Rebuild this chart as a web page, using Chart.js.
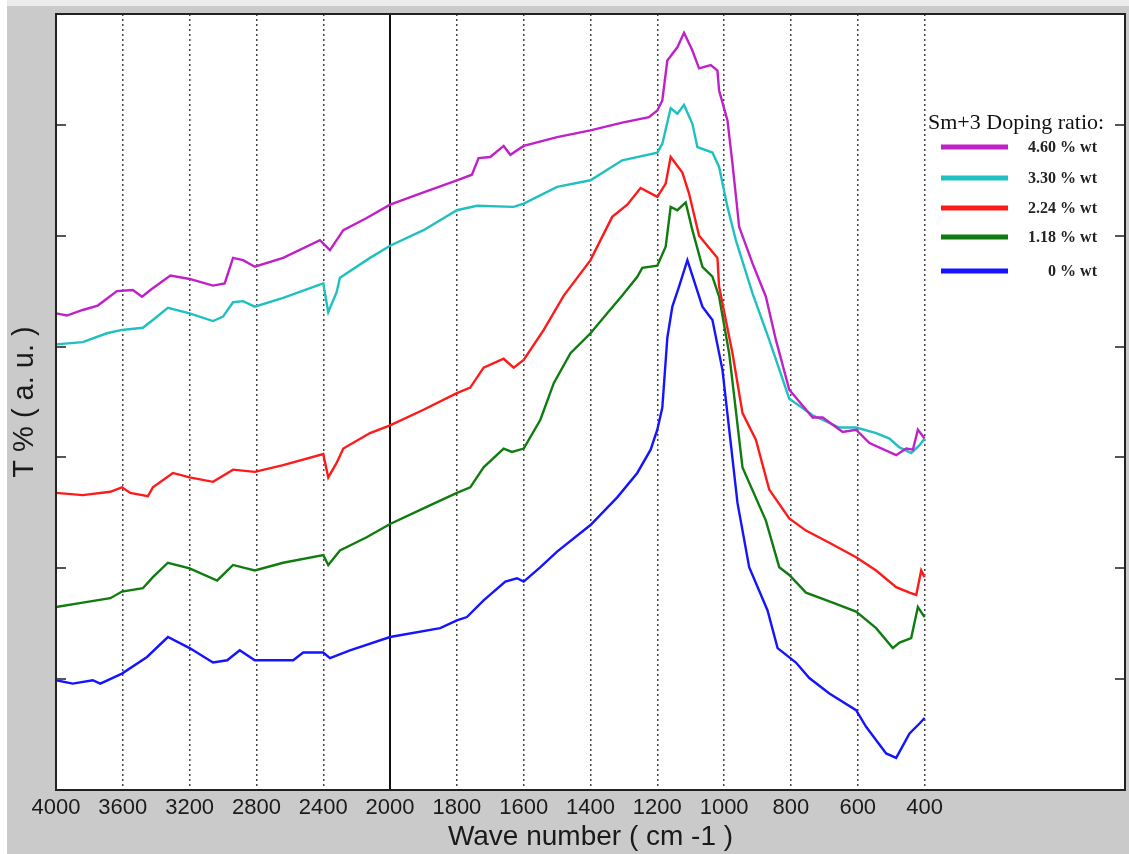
<!DOCTYPE html>
<html>
<head>
<meta charset="utf-8">
<title>FTIR spectra – Sm+3 doping ratio</title>
<script src="https://cdn.jsdelivr.net/npm/chart.js@4.4.1/dist/chart.umd.min.js"></script>
<style>
    html, body { margin: 0; padding: 0; background: #fff; }
    #wrap { width: 1129px; height: 854px; }
</style>
</head>
<body>
<div id="wrap"><canvas id="ftirChart" width="1129" height="854"></canvas></div>
<script>
/* ================================================================
   DATA  (wave number in cm-1, transmittance in arbitrary units)
   ================================================================ */
const xTicks = [4000, 3600, 3200, 2800, 2400, 2000, 1800, 1600, 1400, 1200, 1000, 800, 600, 400];
const yTicks = [10, 20, 30, 40, 50, 60];

const seriesLabels = ['4.60 % wt', '3.30 % wt', '2.24 % wt', '1.18 % wt', '0 % wt'];
const seriesColors = ['#c020c8', '#20c0c0', '#ff1a1a', '#107c10', '#1414ff'];

// 0 % wt
const wn0 = [4000,3900,3780,3735,3605,3455,3330,3200,3060,2975,2900,2810,2580,2520,2400,2360,2240,2000,1850,1800,1770,1720,1655,1620,1600,1550,1500,1400,1320,1260,1220,1200,1185,1170,1155,1135,1110,1065,1035,1005,960,925,870,840,785,745,685,605,575,515,485,445,415,400];
const t0  = [9.9,9.6,9.9,9.6,10.5,12.0,13.8,12.8,11.5,11.7,12.6,11.7,11.7,12.4,12.4,11.9,12.6,13.8,14.6,15.3,15.6,17.1,18.8,19.1,18.8,20.1,21.5,23.9,26.4,28.6,30.7,32.5,34.5,40.8,43.6,45.4,47.8,43.6,42.4,37.9,25.9,20.1,16.2,12.8,11.5,10.1,8.7,7.2,5.7,3.3,2.9,5.1,6.0,6.5];

// 1.18 % wt
const wn118 = [4000,3840,3675,3605,3480,3420,3330,3200,3035,2940,2810,2640,2400,2370,2300,2140,2000,1900,1800,1760,1720,1660,1635,1600,1550,1510,1460,1400,1350,1305,1260,1245,1200,1175,1160,1140,1115,1095,1065,1035,1015,985,945,875,835,805,755,675,605,545,495,475,440,420,400];
const t118  = [16.5,16.9,17.3,17.9,18.2,19.2,20.5,20.0,18.9,20.3,19.8,20.5,21.2,20.3,21.6,22.8,24.0,25.4,26.8,27.3,29.1,30.8,30.5,30.8,33.4,36.7,39.4,41.2,43.0,44.6,46.3,47.1,47.3,49.0,52.6,52.3,53.0,50.5,47.2,46.3,44.5,39.4,29.1,24.3,20.1,19.4,17.8,16.9,16.1,14.6,12.8,13.3,13.7,16.5,15.6];

// 2.24 % wt
const wn224 = [4000,3840,3675,3605,3555,3450,3420,3300,3200,3060,2940,2810,2640,2400,2370,2320,2280,2120,2000,1900,1800,1760,1720,1660,1630,1600,1540,1480,1400,1335,1290,1250,1200,1175,1160,1125,1105,1075,1020,1015,975,945,905,865,805,755,685,605,545,485,445,425,410,400];
const t224  = [26.8,26.6,26.9,27.3,26.8,26.5,27.3,28.6,28.2,27.8,28.9,28.7,29.3,30.3,28.2,29.5,30.8,32.2,32.9,34.3,35.8,36.3,38.1,38.9,38.1,38.8,41.5,44.6,47.8,51.7,52.8,54.3,53.5,54.7,57.1,55.7,53.8,50.0,48.0,45.4,39.4,34.0,31.6,27.1,24.5,23.4,22.3,21.0,19.8,18.3,17.8,17.6,19.8,19.2];

// 3.30 % wt
const wn330 = [4000,3840,3695,3605,3480,3420,3330,3200,3060,3000,2940,2880,2810,2640,2400,2370,2320,2300,2120,2000,1900,1800,1740,1630,1600,1500,1400,1305,1200,1185,1160,1140,1120,1095,1080,1035,1015,990,965,915,865,805,735,655,605,545,505,475,440,415,400];
const t330  = [40.2,40.4,41.2,41.5,41.7,42.4,43.5,43.0,42.3,42.7,44.0,44.1,43.6,44.4,45.7,43.1,44.9,46.2,48.0,49.1,50.5,52.3,52.7,52.6,52.9,54.4,55.0,56.8,57.5,58.3,61.5,61.0,61.8,60.1,58.0,57.5,56.2,52.6,49.6,44.8,40.6,35.3,33.8,32.7,32.7,32.2,31.7,30.9,30.4,31.1,31.7];

// 4.60 % wt
const wn460 = [4000,3935,3840,3750,3635,3540,3485,3435,3315,3200,3060,2990,2940,2880,2810,2640,2420,2360,2280,2140,2000,1900,1800,1755,1735,1700,1660,1640,1600,1500,1400,1305,1225,1200,1185,1170,1140,1120,1095,1075,1040,1020,1015,990,975,955,915,875,845,805,735,705,645,605,565,485,455,435,420,400];
const t460  = [43.0,42.8,43.3,43.7,45.0,45.1,44.5,45.1,46.4,46.1,45.5,45.7,48.0,47.8,47.2,48.0,49.6,48.7,50.5,51.6,52.8,53.9,55.0,55.5,57.0,57.1,58.1,57.3,58.1,58.9,59.5,60.2,60.7,61.3,62.2,65.8,67.0,68.3,66.7,65.1,65.4,64.9,63.1,60.4,56.5,50.8,47.5,44.5,40.6,36.1,33.6,33.6,32.3,32.5,31.3,30.2,30.8,30.7,32.5,31.7];

const seriesWn = [wn460, wn330, wn224, wn118, wn0];
const seriesT  = [t460, t330, t224, t118, t0];

/* ================================================================
   AXIS HELPERS
   The spectrometer plots 4000-2000 at half the scale of 2000-400.
   ================================================================ */
const toAxis   = w => (w > 2000 ? 2000 + (w - 2000) / 2 : w);
const fromAxis = v => (v > 2000 ? 2000 + (v - 2000) * 2 : v);

const SANS  = "'Liberation Sans', Arial, sans-serif";
const SERIF = "'Liberation Serif', 'Times New Roman', serif";

/* ================================================================
   PLUGINS
   ================================================================ */
const framePlugin = {
    id: 'frame',
    beforeDraw(chart) {
        const { ctx, chartArea: a, width, height } = chart;
        ctx.save();
        ctx.fillStyle = '#cacaca';
        ctx.fillRect(0, 0, width, height);
        ctx.fillStyle = '#ffffff';
        ctx.fillRect(0, 0, 7, height);
        ctx.fillStyle = '#ececec';
        ctx.fillRect(7, 0, width - 7, 6);
        ctx.fillStyle = '#ffffff';
        ctx.fillRect(a.left, a.top, a.right - a.left, a.bottom - a.top);
        ctx.restore();
    },
    beforeDatasetsDraw(chart) {
        const { ctx, chartArea: a, scales } = chart;
        const x = Math.round(scales.x.getPixelForValue(toAxis(2000)));
        ctx.save();
        ctx.strokeStyle = '#111';
        ctx.lineWidth = 2;
        ctx.beginPath();
        ctx.moveTo(x, a.top);
        ctx.lineTo(x, a.bottom);
        ctx.stroke();
        ctx.restore();
    },
    afterDatasetsDraw(chart) {
        const { ctx, chartArea: a, scales } = chart;
        ctx.save();
        ctx.strokeStyle = '#555';
        ctx.lineWidth = 2;
        yTicks.forEach(v => {
            const y = Math.round(scales.y.getPixelForValue(v));
            ctx.beginPath();
            ctx.moveTo(a.left, y); ctx.lineTo(a.left + 10, y);
            ctx.moveTo(a.right - 10, y); ctx.lineTo(a.right, y);
            ctx.stroke();
        });
        ctx.strokeStyle = '#222';
        ctx.lineWidth = 2;
        ctx.strokeRect(a.left, a.top, a.right - a.left, a.bottom - a.top);
        ctx.restore();
    }
};

const legendPlugin = {
    id: 'dopingLegend',
    afterDatasetsDraw(chart) {
        const { ctx } = chart;
        const rowsY = [147, 178, 208, 237, 271];
        ctx.save();
        ctx.fillStyle = '#111';
        ctx.font = `22px ${SERIF}`;
        ctx.textAlign = 'left';
        ctx.textBaseline = 'alphabetic';
        ctx.fillText('Sm+3 Doping ratio:', 928, 129);
        ctx.font = `bold 16px ${SERIF}`;
        ctx.textAlign = 'right';
        ctx.textBaseline = 'middle';
        seriesLabels.forEach((lbl, i) => {
            ctx.strokeStyle = seriesColors[i];
            ctx.lineWidth = 5;
            ctx.beginPath();
            ctx.moveTo(941, rowsY[i]);
            ctx.lineTo(1008, rowsY[i]);
            ctx.stroke();
            ctx.fillStyle = '#222';
            ctx.fillText(lbl, 1097, rowsY[i] + 1);
        });
        ctx.restore();
    }
};

/* ================================================================
   CHART
   ================================================================ */
const datasets = seriesLabels.map((lbl, i) => ({
    label: lbl,
    data: seriesWn[i].map((w, j) => ({ x: toAxis(w), y: seriesT[i][j] })),
    borderColor: seriesColors[i],
    borderWidth: 2.4,
    pointRadius: 0,
    tension: 0,
    fill: false
}));

new Chart(document.getElementById('ftirChart'), {
    type: 'line',
    data: { datasets },
    options: {
        responsive: false,
        animation: false,
        layout: { padding: { top: 14, right: 4, left: 0, bottom: 0 } },
        plugins: { legend: { display: false }, tooltip: { enabled: false } },
        scales: {
            x: {
                type: 'linear',
                reverse: true,
                min: -200,
                max: 3000,
                afterBuildTicks: s => { s.ticks = xTicks.map(w => ({ value: toAxis(w) })); },
                afterFit: s => { s.height = 64; },
                ticks: {
                    autoSkip: false,
                    maxRotation: 0,
                    padding: 5,
                    color: '#1a1a1a',
                    font: { family: SANS, size: 22 },
                    callback: v => String(fromAxis(v))
                },
                grid: { color: '#444', lineWidth: 1.5, drawTicks: false },
                border: { display: false, dash: [2, 3] },
                title: {
                    display: true,
                    text: 'Wave number ( cm -1 )',
                    color: '#1a1a1a',
                    font: { family: SANS, size: 28 },
                    padding: { top: 4, bottom: 0 }
                }
            },
            y: {
                min: 0,
                max: 70,
                afterFit: s => { s.width = 56; },
                ticks: { display: false, stepSize: 10 },
                grid: { display: false },
                border: { display: false },
                title: {
                    display: true,
                    text: 'T % ( a. u. )',
                    color: '#1a1a1a',
                    font: { family: SANS, size: 29 },
                    padding: { top: 8, bottom: 0 }
                }
            }
        }
    },
    plugins: [framePlugin, legendPlugin]
});
</script>
</body>
</html>
